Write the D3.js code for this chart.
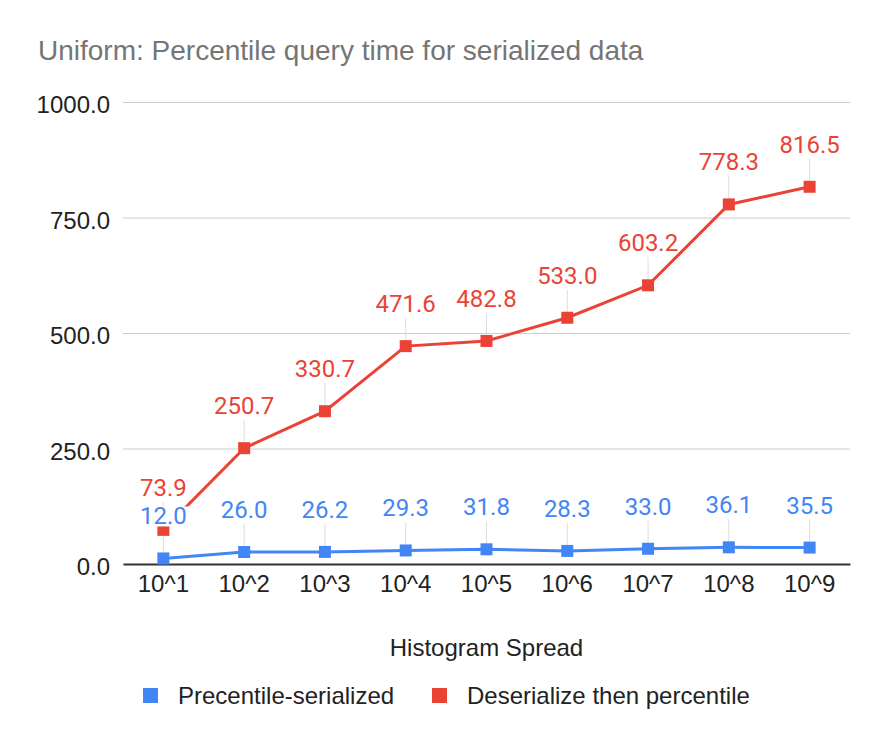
<!DOCTYPE html>
<html>
<head>
<meta charset="utf-8">
<script src="https://cdnjs.cloudflare.com/ajax/libs/d3/7.8.5/d3.min.js"></script>
<style>
  body { margin: 0; background: #fff; }
  text { font-family: "Liberation Sans", Arial, sans-serif; }
</style>
</head>
<body>
<div id="chart"></div>
<script>
var categories = ["10^1", "10^2", "10^3", "10^4", "10^5", "10^6", "10^7", "10^8", "10^9"];
var serialized = [12.0, 26.0, 26.2, 29.3, 31.8, 28.3, 33.0, 36.1, 35.5];
var deserialize = [73.9, 250.7, 330.7, 471.6, 482.8, 533.0, 603.2, 778.3, 816.5];
var yTicks = [0, 250, 500, 750, 1000];
var seriesNames = ["Precentile-serialized", "Deserialize then percentile"];
var colors = ["#4285f4", "#ea4335"];

var W = 888, H = 746;
var marg = { top: 102, right: 38, bottom: 182, left: 123 };
var fontA = "'Liberation Sans', Arial, sans-serif";

var svg = d3.select("#chart").append("svg")
  .attr("width", W).attr("height", H);

var x = d3.scaleBand().domain(categories).range([marg.left, W - marg.right]).padding(0);
var y = d3.scaleLinear().domain([0, 1000]).range([H - marg.bottom, marg.top]);
var cx = function(d, i) { return x(categories[i]) + x.bandwidth() / 2; };

// title
svg.append("text").attr("x", 38).attr("y", 60)
  .style("font-size", "28px").style("fill", "#757575").style("font-family", fontA)
  .text("Uniform: Percentile query time for serialized data");

// grid + y labels
var yAxis = d3.axisLeft(y).tickValues(yTicks).tickSize(-(W - marg.left - marg.right))
  .tickFormat(d3.format(".1f")).tickPadding(13);
var gy = svg.append("g").attr("transform", "translate(" + marg.left + ",0)").call(yAxis);
gy.select(".domain").remove();
gy.selectAll(".tick line").attr("stroke", "#cccccc");
gy.selectAll(".tick text").style("font-size", "24px").style("fill", "#222")
  .style("font-family", fontA).attr("dy", "0.45em");

// x axis
var xAxis = d3.axisBottom(x).tickSize(0).tickPadding(11);
var gx = svg.append("g").attr("transform", "translate(0," + y(0) + ")").call(xAxis);
gx.select(".domain").attr("stroke", "#333").attr("stroke-width", 2);
gx.selectAll(".tick text").style("font-size", "24px").style("fill", "#222")
  .style("font-family", fontA);

svg.append("text").attr("x", (marg.left + W - marg.right) / 2).attr("y", 656)
  .attr("text-anchor", "middle").style("font-size", "24px").style("fill", "#222")
  .style("font-family", fontA)
  .text("Histogram Spread");

var all = [serialized, deserialize];
var line = d3.line().x(cx).y(function(d) { return y(d); });

// leader lines
all.forEach(function(vals, s) {
  svg.append("g").selectAll("line").data(vals).enter().append("line")
    .attr("x1", cx).attr("x2", cx)
    .attr("y1", function(d) { return y(d); })
    .attr("y2", function(d) { return y(d) - 28; })
    .attr("stroke", "#dddddd").attr("stroke-width", 1);
});

all.forEach(function(vals, s) {
  svg.append("path").datum(vals).attr("d", line)
    .attr("fill", "none").attr("stroke", colors[s]).attr("stroke-width", 3);
  svg.append("g").selectAll("rect").data(vals).enter().append("rect")
    .attr("x", function(d, i) { return cx(d, i) - 6; })
    .attr("y", function(d) { return y(d) - 6; })
    .attr("width", 12).attr("height", 12)
    .attr("fill", colors[s]);
});

// value labels with white background
all.forEach(function(vals, s) {
  var g = svg.append("g").selectAll("g").data(vals).enter().append("g");
  g.append("rect")
    .attr("x", function(d, i) { return cx(d, i) - 27; })
    .attr("y", function(d) { return y(d) - 34 - 18; })
    .attr("width", 54).attr("height", 20)
    .attr("fill", "#fff");
  g.append("text")
    .attr("x", cx).attr("y", function(d) { return y(d) - 34; })
    .attr("text-anchor", "middle").style("font-size", "24px").style("fill", colors[s])
    .style("font-family", "Roboto, sans-serif")
    .text(function(d) { return d3.format(".1f")(d); });
});

// legend
var legX = [143, 432];
seriesNames.forEach(function(n, s) {
  svg.append("rect").attr("x", legX[s]).attr("y", 688).attr("width", 15).attr("height", 15)
    .attr("fill", colors[s]);
  svg.append("text").attr("x", legX[s] + 35).attr("y", 704)
    .style("font-size", "24px").style("fill", "#222")
    .style("font-family", fontA)
    .text(n);
});
</script>
</body>
</html>
